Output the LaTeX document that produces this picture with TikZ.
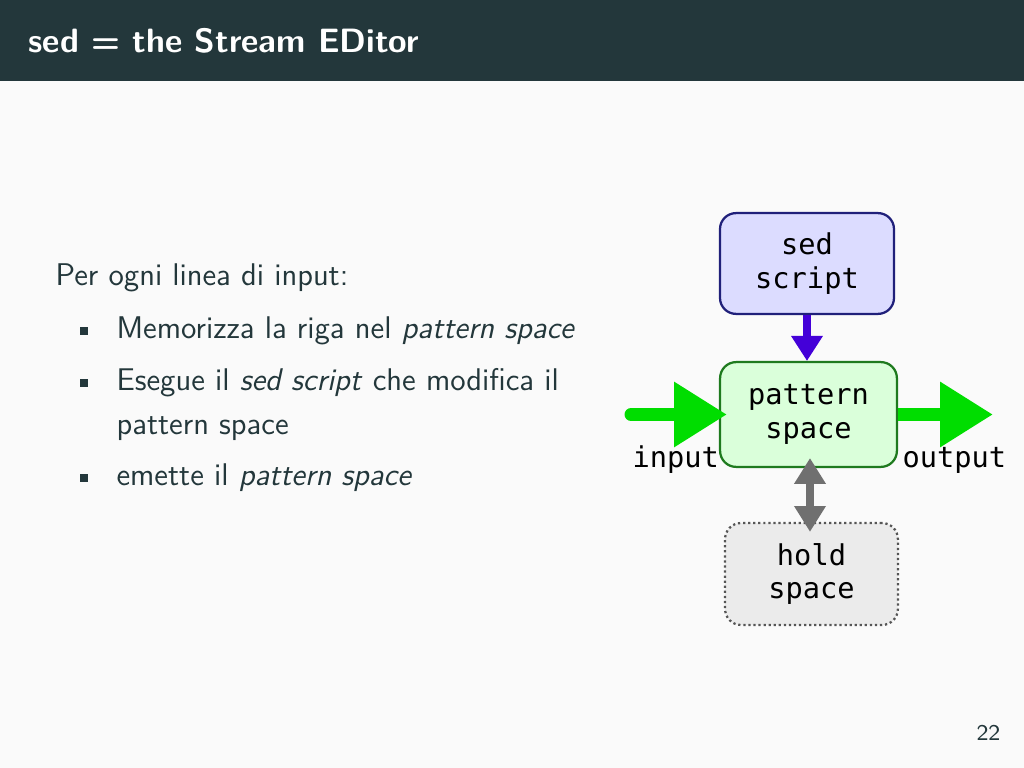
\documentclass[tikz,border=0pt]{standalone}
\usepackage{fontspec}
\setmonofont{DejaVu Sans Mono}
\usepackage{tikz}
\usetikzlibrary{arrows.meta}
\usepackage{xcolor}
\definecolor{mDarkTeal}{HTML}{23373B}
\definecolor{mBack}{HTML}{FAFAFA}
\definecolor{scriptfill}{HTML}{DCDCFF}
\definecolor{scriptline}{HTML}{20207A}
\definecolor{patfill}{HTML}{DAFFDA}
\definecolor{patline}{HTML}{1E7A1E}
\definecolor{holdfill}{HTML}{EBEBEB}
\definecolor{holdline}{HTML}{555555}
\definecolor{flowgreen}{HTML}{00DD00}
\definecolor{flowblue}{HTML}{4400D8}
\definecolor{flowgray}{HTML}{707070}

\tikzset{
  sedbox/.style={draw, rounded corners=2mm, line width=0.8pt, align=center, inner sep=0pt,
    font=\ttfamily\fontsize{10.2}{12}\selectfont, text=black},
  slidetext/.style={anchor=base west, inner sep=0pt, text=mDarkTeal,
    font=\sffamily\fontsize{11.15}{13}\selectfont},
  monolabel/.style={anchor=base west, inner sep=0pt, text=black,
    font=\ttfamily\fontsize{10.2}{12}\selectfont},
  bulletsq/.style={fill=mDarkTeal, inner sep=0pt, minimum size=2.5pt},
}

\begin{document}
\begin{tikzpicture}[x=0.125mm,y=-0.125mm]
  \fill[mBack] (0,0) rectangle (1024,768);
  \useasboundingbox (0,0) rectangle (1024,768);
  % frame title
  \fill[mDarkTeal] (0,0) rectangle (1024,81);
  \node[anchor=base west, inner sep=0pt, text=white,
    font=\sffamily\bfseries\fontsize{12}{14}\selectfont] (title) at (28,53) {sed = the Stream EDitor};

  % left column
  \node[slidetext] (intro) at (55,285) {Per ogni linea di input:};
  \foreach \y/\n in {331/1,383/2,478/3}
    \node[bulletsq] (bul\n) at (84,\y) {};
  \node[slidetext] (item1) at (116,338) {Memorizza la riga nel \textit{pattern space}};
  \node[slidetext] (item2) at (116,390) {Esegue il \textit{sed script} che modifica il};
  \node[slidetext] (item2b) at (116,434) {pattern space};
  \node[slidetext] (item3) at (116,485) {emette il \textit{pattern space}};

  % diagram
  \node[sedbox, fill=scriptfill, draw=scriptline, minimum width=21.75mm, minimum height=12.6mm]
    (script) at (807,263.5) {sed\\script};
  \node[sedbox, fill=patfill, draw=patline, minimum width=22.1mm, minimum height=13.1mm]
    (pattern) at (808.5,414.5) {pattern\\space};
  \node[sedbox, fill=holdfill, draw=holdline, densely dotted, minimum width=21.6mm, minimum height=12.75mm]
    (hold) at (811.5,574) {hold\\space};
  \node[monolabel] (inlabel) at (632,467) {input};
  \node[monolabel] (outlabel) at (902,467) {output};

  \coordinate (in) at (631,414.5);
  \coordinate (out) at (993,414.5);
  \draw[flowgreen, line width=4.6pt, line cap=round, -{Triangle[width=22pt,length=18.8pt]}]
    (in) -- ([xshift=1mm]pattern.west);
  \draw[flowgreen, line width=4.6pt, -{Triangle[width=22pt,length=18.8pt]}]
    (pattern.east) -- (out);
  \draw[flowblue, line width=2.5pt, -{Triangle[width=10.7pt,length=8.9pt]}]
    (script.south) -- (script.south |- pattern.north);
  \draw[flowgray, line width=2.5pt,
    {Triangle[width=10.7pt,length=9.2pt]}-{Triangle[width=10.7pt,length=9.2pt]}]
    ([shift={(1.5,-10)}]pattern.south) -- ([shift={(-1.5,10)}]hold.north);

  \node[anchor=base east, inner sep=0pt, text=mDarkTeal,
    font=\sffamily\fontsize{8}{10}\selectfont] (pagenum) at (1001,740) {22};
\end{tikzpicture}
\end{document}
